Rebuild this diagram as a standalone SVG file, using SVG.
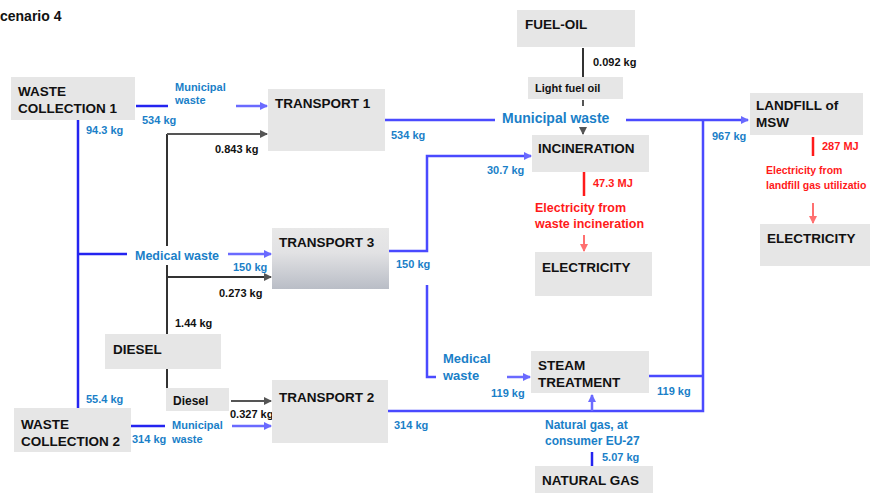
<svg xmlns="http://www.w3.org/2000/svg" width="870" height="493" viewBox="0 0 870 493">
<style>
text{font-family:"Liberation Sans",Arial,sans-serif;font-weight:bold}
.box{fill:#e6e6e6}
.t{font-size:13.5px;fill:#111}
.lb{font-size:11px;fill:#1a7fc8}
.k{font-size:11px;fill:#111}
.r{font-size:11px;fill:#ff1a1a}
.dl{stroke:#2424f0;stroke-width:2.5;fill:none}
.ml{stroke:#4a4aff;stroke-width:2.5;fill:none}
.ll{stroke:#6a6aff;stroke-width:2.5;fill:none}
.gl{stroke:#333;stroke-width:2;fill:none}
.gg{stroke:#555;stroke-width:2;fill:none}
.rl{stroke:#ff1a1a;stroke-width:2.5;fill:none}
.rll{stroke:#ff7070;stroke-width:2;fill:none}
</style>
<defs>
<marker id="ab" markerUnits="userSpaceOnUse" markerWidth="8" markerHeight="8" refX="7" refY="4" orient="auto"><path d="M0,0 L8,4 L0,8 z" fill="#6a6aff"/></marker>
<marker id="ag" markerUnits="userSpaceOnUse" markerWidth="8" markerHeight="8" refX="7" refY="4" orient="auto"><path d="M0,0 L8,4 L0,8 z" fill="#555"/></marker>
<marker id="ar" markerUnits="userSpaceOnUse" markerWidth="8" markerHeight="8" refX="7" refY="4" orient="auto"><path d="M0,0 L8,4 L0,8 z" fill="#ff7070"/></marker>
<linearGradient id="g3" x1="0" y1="0" x2="0" y2="1"><stop offset="0" stop-color="#e8e8e8"/><stop offset="0.4" stop-color="#e2e2e4"/><stop offset="1" stop-color="#b9bdc6"/></linearGradient>
</defs>
<rect width="870" height="493" fill="#fff"/>
<text x="0" y="21" style="font-size:14px;fill:#111">cenario 4</text>

<g id="connectors">
<path class="dl" d="M136,106 H168"/>
<path class="ll" d="M236,106 H267" marker-end="url(#ab)"/>
<path class="gl" d="M167,134 V246 M167,265 V335"/>
<path class="gg" d="M167,134 H267" marker-end="url(#ag)"/>
<path class="gl" d="M167,277 H271" marker-end="url(#ag)"/>
<path class="gl" d="M167,369 V389"/>
<path class="gg" d="M231,401 H271" marker-end="url(#ag)"/>
<path class="dl" d="M78,120 V408"/>
<path class="dl" d="M78,254 H127"/>
<path class="ll" d="M228,254 H271" marker-end="url(#ab)"/>
<path class="dl" d="M131,426 H165"/>
<path class="ll" d="M232,426 H271" marker-end="url(#ab)"/>
<path class="ml" d="M385,120 H495 M626,120 H748" marker-end="url(#ab)"/>
<path class="gl" d="M583,48 V78"/>
<path class="gg" d="M583,100 V106"/>
<path class="gg" d="M583,127 V134" marker-end="url(#ag)"/>
<path class="ml" d="M389,251 H427 V156 H531" marker-end="url(#ab)"/>
<path class="ml" d="M427,285 V377 H436"/>
<path class="ll" d="M507,377 H530" marker-end="url(#ab)"/>
<path class="ml" d="M388,411 H703 V120"/>
<path class="ml" d="M649,376 H703"/>
<path class="ll" d="M592,411 V395" marker-end="url(#ab)"/>
<path class="dl" d="M592,452 V466"/>
<path class="rl" d="M584,172 V196"/>
<path class="rll" d="M584,235 V251" marker-end="url(#ar)"/>
<path class="rl" d="M813,137 V156"/>
<path class="rll" d="M813,203 V223" marker-end="url(#ar)"/>
</g>

<g id="labels">
<text class="lb" x="175" y="91">Municipal</text>
<text class="lb" x="175" y="104">waste</text>
<text class="lb" x="142" y="124">534  kg</text>
<text class="lb" x="86" y="134">94.3 kg</text>
<text class="k" x="215" y="153">0.843 kg</text>
<text class="k" x="593" y="66">0.092 kg</text>
<text x="502" y="123" style="font-size:14px;fill:#1a7fc8">Municipal waste</text>
<text class="lb" x="391" y="139">534 kg</text>
<text class="lb" x="712" y="140">967 kg</text>
<text class="lb" x="487" y="174">30.7 kg</text>
<text class="r" x="593" y="187">47.3 MJ</text>
<text x="535" y="212" style="font-size:12.5px;fill:#ff1a1a">Electricity from</text>
<text x="535" y="228" style="font-size:12.5px;fill:#ff1a1a">waste incineration</text>
<text class="r" x="822" y="150">287 MJ</text>
<text class="r" x="766" y="174" style="font-size:10.5px">Electricity from</text>
<text class="r" x="766" y="189" style="font-size:10.5px">landfill gas utilizatio</text>
<text x="135" y="260" style="font-size:12.5px;fill:#1a7fc8">Medical waste</text>
<text class="lb" x="233" y="271">150 kg</text>
<text class="lb" x="396" y="268">150 kg</text>
<text class="k" x="219" y="297">0.273 kg</text>
<text class="k" x="175" y="327">1.44 kg</text>
<text x="443" y="363" style="font-size:13px;fill:#1a7fc8">Medical</text>
<text x="443" y="380" style="font-size:13px;fill:#1a7fc8">waste</text>
<text class="lb" x="491" y="397">119 kg</text>
<text class="lb" x="657" y="395">119 kg</text>
<text class="lb" x="86" y="403">55.4 kg</text>
<text class="k" x="230" y="418">0.327 kg</text>
<text class="lb" x="172" y="429">Municipal</text>
<text class="lb" x="172" y="443">waste</text>
<text class="lb" x="132" y="443">314 kg</text>
<text class="lb" x="394" y="429">314 kg</text>
<text x="545" y="429" style="font-size:12px;fill:#1a7fc8">Natural gas, at</text>
<text x="545" y="445" style="font-size:12px;fill:#1a7fc8">consumer EU-27</text>
<text class="lb" x="602" y="461">5.07 kg</text>
</g>

<g id="wc1"><rect class="box" x="11" y="77" width="124" height="43"/><text class="t" x="18" y="96">WASTE</text><text class="t" x="18" y="113">COLLECTION 1</text></g>
<g id="t1"><rect class="box" x="268" y="89" width="117" height="62"/><text class="t" x="275" y="108">TRANSPORT 1</text></g>
<g id="fueloil"><rect class="box" x="517" y="10" width="118" height="37"/><text class="t" x="525" y="29">FUEL-OIL</text></g>
<g id="lightfueloil"><rect class="box" x="528" y="77" width="95" height="22"/><text class="k" x="535" y="92">Light fuel oil</text></g>
<g id="incineration"><rect class="box" x="532" y="135" width="117" height="37"/><text class="t" x="538" y="153">INCINERATION</text></g>
<g id="elec1"><rect class="box" x="535" y="252" width="117" height="44"/><text class="t" x="542" y="272">ELECTRICITY</text></g>
<g id="landfill"><rect class="box" x="750" y="93" width="113" height="42"/><text class="t" x="756" y="110">LANDFILL of</text><text class="t" x="756" y="127">MSW</text></g>
<g id="elec2"><rect class="box" x="760" y="224" width="110" height="42"/><text class="t" x="767" y="243">ELECTRICITY</text></g>
<g id="t3"><rect x="272" y="228" width="117" height="61" fill="url(#g3)"/><text class="t" x="279" y="247">TRANSPORT 3</text></g>
<g id="diesel"><rect class="box" x="105" y="334" width="116" height="35"/><text class="t" x="113" y="354">DIESEL</text></g>
<g id="diesel2"><rect class="box" x="166" y="388" width="63" height="23"/><text class="k" x="173" y="405" style="font-size:12px">Diesel</text></g>
<g id="wc2"><rect class="box" x="14" y="408" width="117" height="44"/><text class="t" x="21" y="429">WASTE</text><text class="t" x="21" y="446">COLLECTION 2</text></g>
<g id="t2"><rect class="box" x="272" y="380" width="116" height="63"/><text class="t" x="279" y="402">TRANSPORT 2</text></g>
<g id="steam"><rect class="box" x="531" y="351" width="118" height="42"/><text class="t" x="538" y="370">STEAM</text><text class="t" x="538" y="387">TREATMENT</text></g>
<g id="natgas"><rect class="box" x="535" y="466" width="118" height="27"/><text class="t" x="542" y="485">NATURAL GAS</text></g>
</svg>
